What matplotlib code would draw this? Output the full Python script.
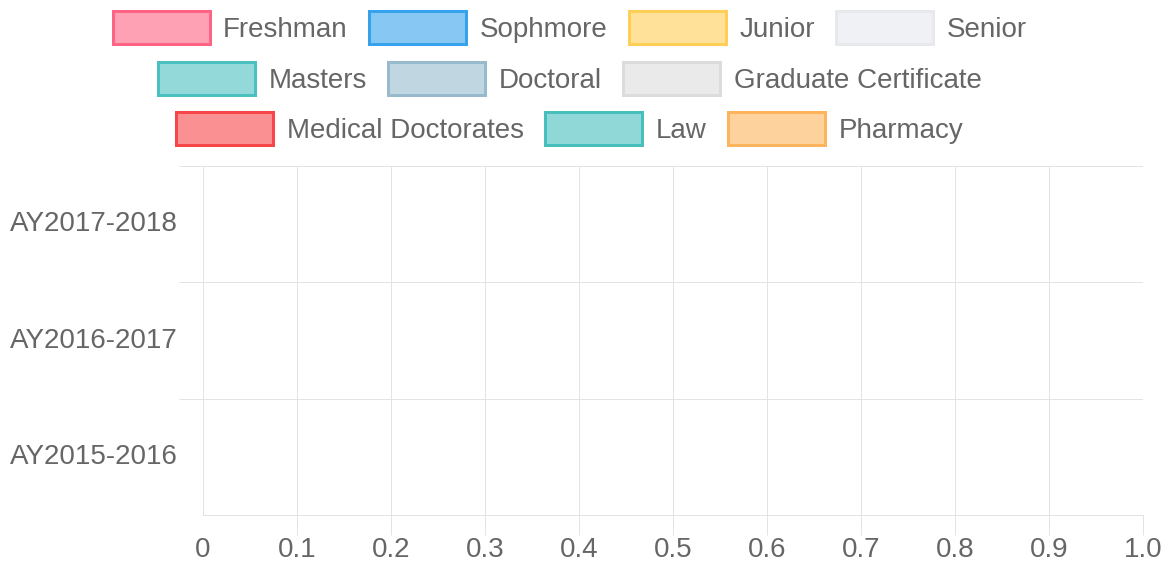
import matplotlib
matplotlib.use("Agg")
import matplotlib.pyplot as plt
from matplotlib.patches import Rectangle
from matplotlib.colors import to_rgba
from matplotlib.transforms import ScaledTranslation
import numpy as np

# ---- data (categories listed top to bottom) ----
categories = ["AY2017-2018", "AY2016-2017", "AY2015-2016"]
series_names = ["Freshman", "Sophmore", "Junior", "Senior", "Masters", "Doctoral",
                "Graduate Certificate", "Medical Doctorates", "Law", "Pharmacy"]
freshman = [0, 0, 0]
sophmore = [0, 0, 0]
junior = [0, 0, 0]
senior = [0, 0, 0]
masters = [0, 0, 0]
doctoral = [0, 0, 0]
grad_cert = [0, 0, 0]
medical = [0, 0, 0]
law = [0, 0, 0]
pharmacy = [0, 0, 0]
series_values = [freshman, sophmore, junior, senior, masters, doctoral,
                 grad_cert, medical, law, pharmacy]
x_ticks = [0, 0.1, 0.2, 0.3, 0.4, 0.5, 0.6, 0.7, 0.8, 0.9, 1.0]
x_tick_labels = ["0", "0.1", "0.2", "0.3", "0.4", "0.5", "0.6", "0.7", "0.8", "0.9", "1.0"]

border_colors = ["#ff6384", "#36a2eb", "#ffce56", "#e7e9ed", "#4bc0c0", "#97bbcd",
                 "#dcdcdc", "#f7464a", "#46bfbd", "#fdb45c"]
fill_colors = [to_rgba(c, 0.6) for c in border_colors]

W, H = 1170, 566
PX = 0.72  # points per pixel at dpi 100
FONT = "Liberation Sans"
TXT = "#666666"
GRID = "#e3e3e3"

plt.rcParams["font.family"] = [FONT, "DejaVu Sans"]

fig = plt.figure(figsize=(W / 100, H / 100), dpi=100)
ax = fig.add_axes([203 / W, 1 - 515 / H, 940 / W, 349 / H])

# stacked horizontal bars (all zero)
y = np.arange(len(categories))
left = np.zeros(len(categories))
for name, vals, fc, ec in zip(series_names, series_values, fill_colors, border_colors):
    ax.barh(y, vals, left=left, height=0.8, color=fc, edgecolor=ec, linewidth=0, label=name)
    left = left + np.array(vals)

ax.set_xlim(0, 1)
ax.set_ylim(len(categories) - 0.5, -0.5)
ax.set_yticks(y)
ax.set_yticklabels(categories)
ax.set_yticks([-0.5, 0.5, 1.5], minor=True)
ax.set_xticks(x_ticks)
ax.set_xticklabels(x_tick_labels)

ax.tick_params(axis="y", which="major", length=0, pad=25 * PX, labelsize=20, labelcolor=TXT)
ax.tick_params(axis="y", which="minor", length=24 * PX, width=PX, color=GRID, direction="out")
ax.tick_params(axis="x", which="major", length=20 * PX, width=PX, color=GRID, direction="out",
               pad=2 * PX, labelsize=20, labelcolor=TXT)
ax.xaxis.get_major_ticks()[0].tick1line.set_visible(False)

shift_up = ScaledTranslation(0, 3 / 100, fig.dpi_scale_trans)
for lab in ax.get_yticklabels():
    lab.set_transform(lab.get_transform() + shift_up)

ax.grid(False)
ax.xaxis.grid(True, which="major", color=GRID, linewidth=PX)
ax.yaxis.grid(True, which="minor", color=GRID, linewidth=PX)
ax.set_axisbelow(True)

for s in ["top", "right"]:
    ax.spines[s].set_visible(False)
for s in ["left", "bottom"]:
    ax.spines[s].set_color(GRID)
    ax.spines[s].set_linewidth(PX)

# ---- legend (centered rows, Chart.js style) ----
rows = [[0, 1, 2, 3], [4, 5, 6], [7, 8, 9]]
row_centers = [27, 78, 128.5]
center_x = 569
box_w, box_h, lw_px = 100, 36, 3
gap_text, gap_item = 12, 20

renderer = fig.canvas.get_renderer()
for row, yc in zip(rows, row_centers):
    texts = []
    widths = []
    for i in row:
        t = fig.text(0, 0, series_names[i], fontsize=20, color=TXT, va="baseline", ha="left")
        texts.append(t)
        widths.append(t.get_window_extent(renderer).width)
    total = sum(box_w + gap_text + w for w in widths) + gap_item * (len(row) - 1)
    x = center_x - total / 2
    for i, t, w in zip(row, texts, widths):
        rx = x + lw_px / 2
        ry = yc - box_h / 2 + lw_px / 2
        rect = Rectangle((rx / W, 1 - (ry + box_h - lw_px) / H),
                         (box_w - lw_px) / W, (box_h - lw_px) / H,
                         transform=fig.transFigure, facecolor=fill_colors[i],
                         edgecolor=border_colors[i], linewidth=lw_px * PX)
        fig.patches.append(rect)
        t.set_position(((x + box_w + gap_text) / W, 1 - (yc + 10) / H))
        x += box_w + gap_text + w + gap_item

fig.savefig("out.png", dpi=100, facecolor="white")
